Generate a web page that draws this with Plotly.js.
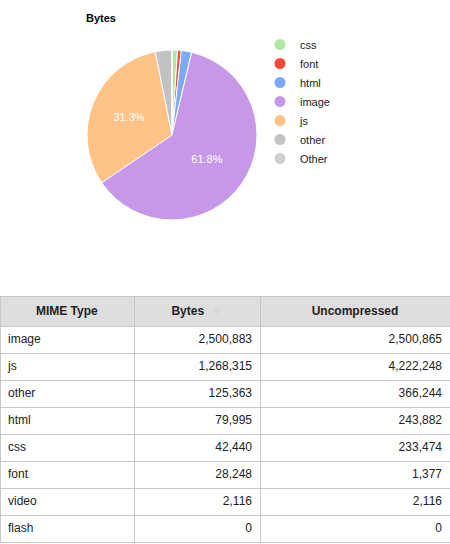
<!DOCTYPE html>
<html>
<head>
<meta charset="utf-8">
<script src="https://cdn.plot.ly/plotly-3.0.1.min.js"></script>
<style>html,body{margin:0;padding:0;background:#fff;}#chart{width:450px;height:544px;}</style>
</head>
<body>
<div id="chart"></div>
<script>
// ---- data ----
var pieLabels = ['css', 'font', 'html', 'image', 'js', 'other', 'Other'];
var pieValues = [42440, 28248, 79995, 2500883, 1268315, 125363, 2116];
var pieColors = ['#b3e6a1', '#f4493a', '#7aabf6', '#c698e7', '#ffc387', '#c2c2c2', '#d0d0d0'];
var pieShowPct = [false, false, false, true, true, false, false];

var mimeTypes = ['image', 'js', 'other', 'html', 'css', 'font', 'video', 'flash'];
var bytesCol = [2500883, 1268315, 125363, 79995, 42440, 28248, 2116, 0];
var uncompressedCol = [2500865, 4222248, 366244, 243882, 233474, 1377, 2116, 0];
var headerLabels = [
  '<b>MIME Type</b>',
  '<b>Bytes</b>  <span style="color:#d6d6d6;font-size:12px">▼</span><br>',
  '<b>Uncompressed</b>'
];

var FONT = 'Arial, "Liberation Sans", sans-serif';
var W = 450, H = 544;

var traces = [];
traces.push({
  type: 'pie',
  labels: pieLabels,
  values: pieValues,
  sort: false,
  direction: 'clockwise',
  rotation: 0,
  marker: {colors: pieColors, line: {color: '#ffffff', width: 1}},
  texttemplate: pieShowPct.map(function (s) { return s ? '%{percent:.1%}' : ''; }),
  textposition: 'inside',
  insidetextorientation: 'horizontal',
  textfont: {family: FONT, size: 11, color: '#ffffff'},
  showlegend: false,
  hoverinfo: 'label+percent',
  domain: {x: [87 / W, 257 / W], y: [1 - 220 / H, 1 - 50 / H]}
});
// legend entries (circle symbols)
pieLabels.forEach(function (lab, i) {
  traces.push({
    type: 'scatter', mode: 'markers', x: [null], y: [null],
    name: lab, marker: {color: pieColors[i], size: 11, symbol: 'circle'},
    showlegend: true, hoverinfo: 'skip'
  });
});
traces.push({
  type: 'table',
  columnwidth: [134, 126, 190],
  domain: {x: [0, 1], y: [0, 1 - 296 / H]},
  header: {
    values: headerLabels,
    align: ['center', 'center', 'center'],
    height: 29,
    fill: {color: '#dedede'},
    line: {color: '#c8c8c8', width: 1},
    font: {family: FONT, size: 12, color: '#222222'}
  },
  cells: {
    values: [mimeTypes, bytesCol, uncompressedCol],
    format: [null, ',', ','],
    align: ['left', 'right', 'right'],
    height: 27,
    fill: {color: '#ffffff'},
    line: {color: '#c8c8c8', width: 1},
    font: {family: FONT, size: 12, color: '#222222'}
  }
});

var layout = {
  width: W, height: H,
  margin: {l: 0, r: 0, t: 0, b: 0},
  paper_bgcolor: '#ffffff', plot_bgcolor: '#ffffff',
  font: {family: FONT, size: 11, color: '#222222'},
  title: {
    text: '<b>Bytes</b>', font: {family: FONT, size: 11, color: '#000000'},
    x: 86 / W, xanchor: 'left', xref: 'container',
    y: 1 - 18 / H, yanchor: 'middle', yref: 'container'
  },
  xaxis: {visible: false, domain: [0.9, 1]},
  yaxis: {visible: false, domain: [0.9, 1]},
  showlegend: true,
  legend: {
    x: 260 / W, xanchor: 'left', y: 1 - 30 / H, yanchor: 'top',
    font: {family: FONT, size: 11, color: '#222222'},
    bgcolor: 'rgba(0,0,0,0)', borderwidth: 0,
    itemclick: false, itemdoubleclick: false
  }
};

Plotly.newPlot('chart', traces, layout, {displayModeBar: false, staticPlot: true});
</script>
</body>
</html>
